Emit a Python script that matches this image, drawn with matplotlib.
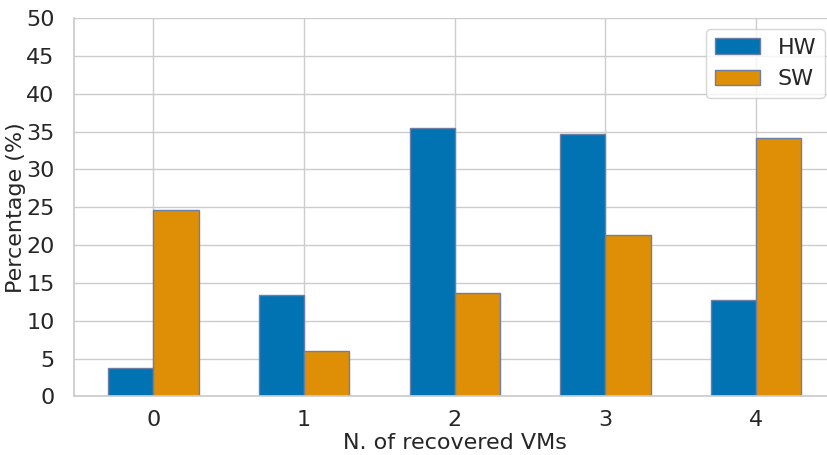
import matplotlib
matplotlib.use("Agg")
import matplotlib.pyplot as plt
import seaborn as sns
import numpy as np

categories = [0, 1, 2, 3, 4]
hw_values = [3.7, 13.4, 35.5, 34.7, 12.8]
sw_values = [24.7, 6.0, 13.7, 21.3, 34.1]
series_names = ["HW", "SW"]

sns.set_theme(style="whitegrid")
plt.rcParams['font.family'] = ['DejaVu Sans']

fig = plt.figure(figsize=(8.27, 4.55), dpi=100)
ax = fig.add_axes([0.0889, 0.1286, (836 - 73.5) / 827, 0.8318])

x = np.arange(len(categories))
w = 0.3
edge = "#6b7fa6"
ax.bar(x - w / 2, hw_values, w, color="#0173b2", edgecolor=edge, linewidth=1, label=series_names[0], zorder=2)
ax.bar(x + w / 2, sw_values, w, color="#de8f05", edgecolor=edge, linewidth=1, label=series_names[1], zorder=2)

ax.set_xlim(-0.53, 4.53)
ax.set_ylim(0, 50)
ax.set_yticks(np.arange(0, 51, 5))
ax.set_xticks(x)
ax.set_xticklabels([str(c) for c in categories])
fs = 16
ax.tick_params(axis='x', labelsize=fs, colors='#262626', pad=4)
ax.tick_params(axis='y', labelsize=fs, colors='#262626', pad=7.5)
ax.set_xlabel("N. of recovered VMs", fontsize=fs, color='#262626', labelpad=2)
ax.set_ylabel("Percentage (%)", fontsize=fs, color='#262626', labelpad=0.5)
ax.set_axisbelow(True)
for s in ['top', 'right']:
    ax.spines[s].set_visible(False)
for s in ['left', 'bottom']:
    ax.spines[s].set_color('#cccccc')

ax.legend(loc='upper right', fontsize=fs, frameon=True, handlelength=2.0, handletextpad=0.8)

fig.savefig("out.png", dpi=100)
